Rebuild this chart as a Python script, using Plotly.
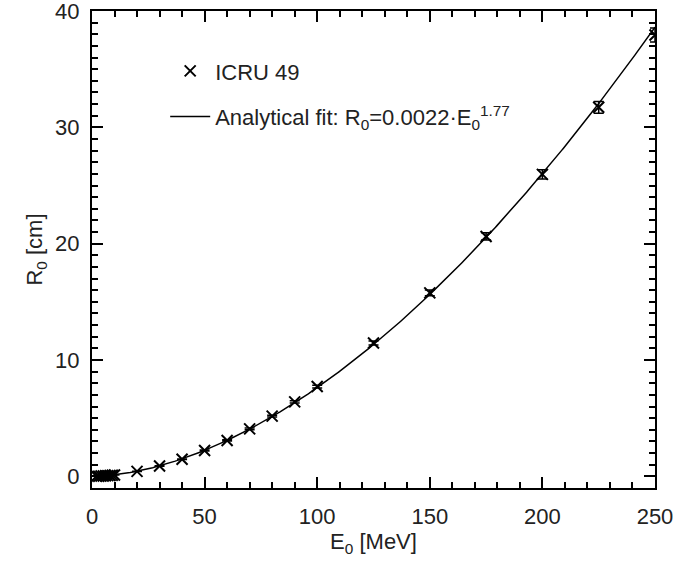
import numpy as np
import plotly.graph_objects as go

# ICRU 49 data (proton CSDA range in water)
energy_mev = [2, 3, 4, 5, 6, 7, 8, 9, 10, 20, 30, 40, 50, 60, 70, 80, 90, 100,
              125, 150, 175, 200, 225, 250]
range_cm = [0.0076, 0.0151, 0.0248, 0.0362, 0.0497, 0.0647, 0.0812, 0.0991, 0.123,
            0.426, 0.885, 1.47, 2.23, 3.09, 4.08, 5.18, 6.40, 7.72,
            11.46, 15.77, 20.62, 25.96, 31.72, 37.94]
range_err = [0.0, 0.0, 0.0, 0.0, 0.0, 0.0, 0.0, 0.0, 0.0,
             0.01, 0.02, 0.03, 0.04, 0.05, 0.07, 0.08, 0.1, 0.12,
             0.17, 0.24, 0.31, 0.4, 0.5, 0.6]

# Analytical fit parameters R0 = a * E0^p
fit_a = 0.0022
fit_p = 1.77
fit_e = np.linspace(0, 250, 400)
fit_r = fit_a * fit_e ** fit_p

FONT = "Liberation Sans"

fig = go.Figure()
fig.add_trace(go.Scatter(
    x=energy_mev, y=range_cm, mode="markers", name="ICRU 49", legendgroup="icru",
    marker=dict(symbol="x-thin", size=11, line=dict(width=2, color="black"), color="black"),
    error_y=dict(type="data", array=range_err, visible=True, color="black", thickness=1.5, width=5),
))
fig.add_trace(go.Scatter(
    x=fit_e, y=fit_r, mode="lines", legendgroup="fit",
    name="Analytical fit: R<sub>0</sub>=0.0022·E<sub>0</sub><sup>1.77</sup>",
    line=dict(color="black", width=1.5),
))

axis_common = dict(
    showline=True, linecolor="black", linewidth=2, mirror="allticks",
    ticks="inside", tickcolor="black", tickwidth=1.5, ticklen=11,
    showgrid=False, zeroline=False, automargin=False,
    ticklabeloverflow="allow",
    tickfont=dict(family=FONT, size=22, color="#222"),
)

fig.update_xaxes(
    range=[0, 250], tickvals=[0, 50, 100, 150, 200, 250],
    minor=dict(dtick=10, ticklen=6, tickwidth=1.5, tickcolor="black", ticks="inside"),
    title=dict(text="E<sub>0</sub> [MeV]", font=dict(family=FONT, size=22, color="#222"), standoff=4),
    ticklabelstandoff=8,
    **axis_common,
)
fig.update_yaxes(
    range=[-1, 40], tickvals=[0, 10, 20, 30, 40],
    minor=dict(dtick=1, ticklen=6, tickwidth=1.5, tickcolor="black", ticks="inside"),
    title=dict(text="R<sub>0</sub> [cm]", font=dict(family=FONT, size=22, color="#222"), standoff=6),
    ticklabelstandoff=6,
    **axis_common,
)

fig.update_layout(
    width=678, height=563,
    margin=dict(l=92, r=23, t=11, b=75),
    paper_bgcolor="white", plot_bgcolor="white",
    showlegend=True,
    legend=dict(
        x=0.13, y=0.918, xanchor="left", yanchor="top",
        bgcolor="rgba(0,0,0,0)", borderwidth=0,
        font=dict(family=FONT, size=22, color="#222"),
        tracegroupgap=14, itemwidth=40,
    ),
)

fig.write_html("out.html")
